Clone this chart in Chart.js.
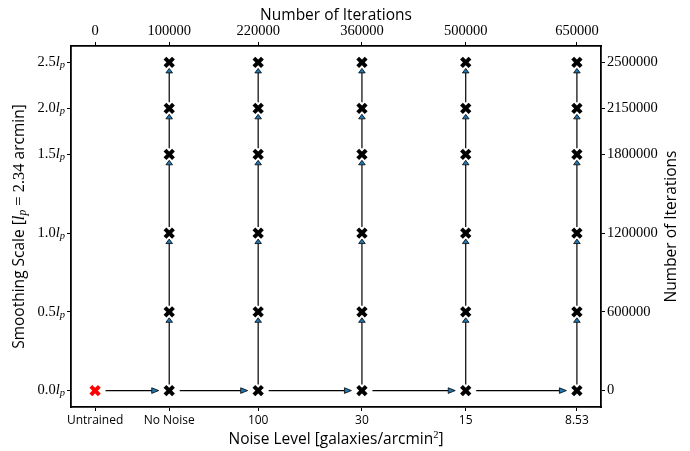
<!DOCTYPE html>
<html>
<head>
<meta charset="utf-8">
<script src="https://cdn.jsdelivr.net/npm/chart.js@4.4.1/dist/chart.umd.min.js"></script>
<style>
  html, body { margin: 0; padding: 0; background: #fff; }
  .wrap { position: relative; width: 690px; height: 451px; }
</style>
</head>
<body>
<div class="wrap"><canvas id="c"></canvas></div>
<script>
// noise levels along the bottom, cumulative iterations along the top
const noiseLabels = ['Untrained', 'No Noise', '100', '30', '15', '8.53'];
const noiseIterations = [0, 100000, 220000, 360000, 500000, 650000];

// smoothing scales on the left, cumulative iterations on the right
const smoothLabels = ['0.0', '0.5', '1.0', '1.5', '2.0', '2.5'];
const smoothIterations = [0, 600000, 1200000, 1800000, 2150000, 2500000];

const SERIF = '"Liberation Serif", "DejaVu Serif", serif';
const SANS = '"Open Sans", "DejaVu Sans", sans-serif';
const BLUE = '#1f77b4';

// trained models: every noise level (except untrained) x every smoothing scale
const trainedPts = [];
for (let i = 1; i < noiseIterations.length; i++) {
  smoothIterations.forEach(function (s) {
    trainedPts.push({ x: noiseIterations[i], y: s });
  });
}
const untrainedPts = [{ x: noiseIterations[0], y: smoothIterations[0] }];

// helper: draw a row of text pieces with mixed fonts
function drawPieces(ctx, pieces, x, y, align) {
  let total = 0;
  pieces.forEach(function (p) { ctx.font = p.f; p.w = ctx.measureText(p.t).width; total += p.w; });
  let cx = align === 'right' ? x - total : (align === 'center' ? x - total / 2 : x);
  ctx.textAlign = 'left';
  ctx.textBaseline = 'middle';
  pieces.forEach(function (p) {
    ctx.font = p.f;
    ctx.fillText(p.t, cx, y + (p.dy || 0));
    cx += p.w;
  });
}

function arrow(ctx, x0, y0, x1, y1, shrink, headLen, headHalf) {
  const dx = x1 - x0, dy = y1 - y0;
  const len = Math.sqrt(dx * dx + dy * dy);
  const ux = dx / len, uy = dy / len;
  const sx = x0 + ux * shrink, sy = y0 + uy * shrink;
  const tx = x1 - ux * shrink, ty = y1 - uy * shrink;
  const bx = tx - ux * headLen, by = ty - uy * headLen;
  ctx.strokeStyle = '#000';
  ctx.lineWidth = 1.2;
  ctx.beginPath();
  ctx.moveTo(sx, sy);
  ctx.lineTo(bx, by);
  ctx.stroke();
  ctx.beginPath();
  ctx.moveTo(tx, ty);
  ctx.lineTo(bx - uy * headHalf, by + ux * headHalf);
  ctx.lineTo(bx + uy * headHalf, by - ux * headHalf);
  ctx.closePath();
  ctx.fillStyle = BLUE;
  ctx.fill();
  ctx.lineWidth = 0.8;
  ctx.stroke();
}

const arrowsPlugin = {
  id: 'arrows',
  beforeDatasetsDraw(chart) {
    const ctx = chart.ctx, xs = chart.scales.x, ys = chart.scales.y;
    ctx.save();
    // training path along noise levels
    for (let i = 0; i < noiseIterations.length - 1; i++) {
      const y = ys.getPixelForValue(smoothIterations[0]);
      arrow(ctx, xs.getPixelForValue(noiseIterations[i]), y,
        xs.getPixelForValue(noiseIterations[i + 1]), y, 10.5, 7, 2.8);
    }
    // then along smoothing scales for each noise level
    for (let i = 1; i < noiseIterations.length; i++) {
      const x = xs.getPixelForValue(noiseIterations[i]);
      for (let j = 0; j < smoothIterations.length - 1; j++) {
        arrow(ctx, x, ys.getPixelForValue(smoothIterations[j]),
          x, ys.getPixelForValue(smoothIterations[j + 1]), 6, 4.5, 3.3);
      }
    }
    ctx.restore();
  }
};

const textPlugin = {
  id: 'texts',
  afterDraw(chart) {
    const ctx = chart.ctx, ys = chart.scales.y, a = chart.chartArea;
    ctx.save();
    ctx.fillStyle = '#000';
    // left tick labels  (value + l_p)
    smoothIterations.forEach(function (v, k) {
      drawPieces(ctx, [
        { t: smoothLabels[k], f: '14.5px ' + SERIF },
        { t: 'l', f: 'italic 14.5px ' + SERIF },
        { t: 'p', f: 'italic 10.5px ' + SERIF, dy: 3 }
      ], 65, ys.getPixelForValue(v), 'right');
    });
    const midX = (a.left + a.right) / 2, midY = (a.top + a.bottom) / 2;
    // top title
    drawPieces(ctx, [{ t: 'Number of Iterations', f: '15.5px ' + SANS }], midX, 16, 'center');
    // bottom title
    drawPieces(ctx, [
      { t: 'Noise Level [galaxies/arcmin', f: '15.5px ' + SANS },
      { t: '2', f: '10.5px ' + SERIF, dy: -5 },
      { t: ']', f: '15.5px ' + SANS }
    ], midX, 440, 'center');
    // left title
    ctx.save();
    ctx.translate(20, midY);
    ctx.rotate(-Math.PI / 2);
    drawPieces(ctx, [
      { t: 'Smoothing Scale [', f: '15.5px ' + SANS },
      { t: 'l', f: 'italic 16.5px ' + SERIF },
      { t: 'p', f: 'italic 11.5px ' + SERIF, dy: 3 },
      { t: ' = 2.34', f: '16.5px ' + SERIF },
      { t: ' arcmin]', f: '15.5px ' + SANS }
    ], 0, 0, 'center');
    ctx.restore();
    // right title
    ctx.save();
    ctx.translate(672, midY);
    ctx.rotate(-Math.PI / 2);
    drawPieces(ctx, [{ t: 'Number of Iterations', f: '15.5px ' + SANS }], 0, 0, 'center');
    ctx.restore();
    ctx.restore();
  }
};

function axis(position, values, labels, font, size, pad) {
  return {
    type: 'linear',
    position: position,
    min: position === 'top' || position === 'bottom' ? -32500 : -125000,
    max: position === 'top' || position === 'bottom' ? 682500 : 2625000,
    afterBuildTicks: function (s) { s.ticks = values.map(function (v) { return { value: v }; }); },
    afterFit: function (s) {
      if (position === 'top' || position === 'bottom') s.height = size; else s.width = size;
    },
    border: { display: true, color: '#000', width: 1.8 },
    grid: { drawOnChartArea: false, drawTicks: true, tickLength: 4, tickColor: '#000', tickWidth: 1 },
    ticks: {
      autoSkip: false,
      maxRotation: 0,
      padding: pad,
      color: labels ? '#000' : 'rgba(0,0,0,0)',
      font: font,
      callback: function (v) {
        const k = values.indexOf(v);
        return labels ? labels[k] : '';
      }
    }
  };
}

new Chart(document.getElementById('c'), {
  type: 'scatter',
  data: {
    datasets: [
      {
        data: trainedPts,
        pointStyle: 'crossRot',
        pointRadius: 6,
        pointHoverRadius: 6,
        borderColor: '#000',
        backgroundColor: '#000',
        borderWidth: 4,
        pointBorderWidth: 4
      },
      {
        data: untrainedPts,
        pointStyle: 'crossRot',
        pointRadius: 6,
        pointHoverRadius: 6,
        borderColor: '#ff0000',
        backgroundColor: '#ff0000',
        borderWidth: 4,
        pointBorderWidth: 4
      }
    ]
  },
  options: {
    responsive: true,
    maintainAspectRatio: false,
    animation: false,
    layout: { padding: 0 },
    plugins: { legend: { display: false }, tooltip: { enabled: false } },
    scales: {
      x: axis('bottom', noiseIterations, noiseLabels, { family: SANS, size: 12 }, 44, 2),
      xTop: axis('top', noiseIterations, noiseIterations.map(String), { family: SERIF, size: 14.5 }, 46, 2),
      y: axis('left', smoothIterations, null, { family: SERIF, size: 14.5 }, 71, 2),
      yRight: axis('right', smoothIterations, smoothIterations.map(String), { family: SERIF, size: 14.5 }, 89, 2)
    }
  },
  plugins: [arrowsPlugin, textPlugin]
});
</script>
</body>
</html>
